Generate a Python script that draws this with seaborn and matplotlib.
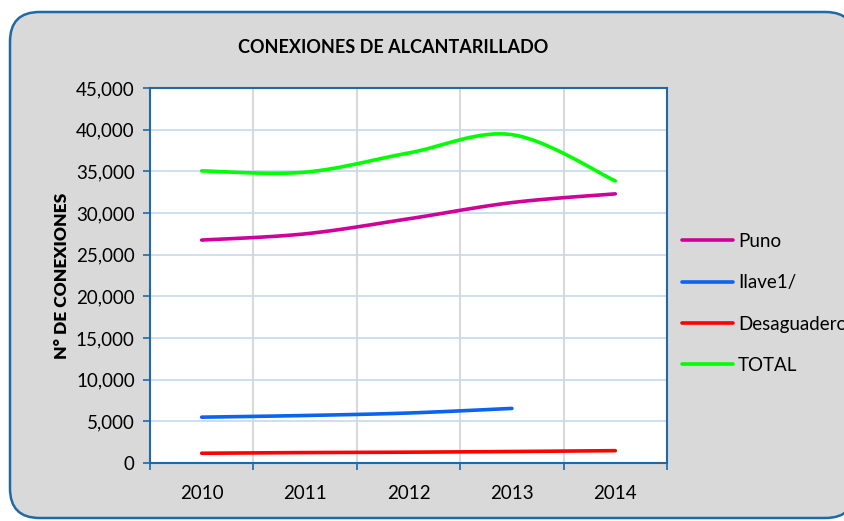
import matplotlib

matplotlib.use("Agg")
import matplotlib.pyplot as plt
import numpy as np
import pandas as pd
import seaborn as sns
from matplotlib.lines import Line2D
from matplotlib.patches import FancyBboxPatch

anios = ["2010", "2011", "2012", "2013", "2014"]
puno = [26750, 27500, 29300, 31250, 32300]
ilave = [5500, 5700, 6000, 6550, None]
desaguadero = [1170, 1250, 1300, 1380, 1480]
total = [35050, 34900, 37200, 39400, 33850]

SERIES = [
    ("Puno", puno, "#d0009a"),
    ("Ilave1/", ilave, "#0a64f0"),
    ("Desaguadero", desaguadero, "#ff0000"),
    ("TOTAL", total, "#00ff00"),
]

sns.set_theme(style="white")
plt.rcParams["font.family"] = ["Lato", "DejaVu Sans"]
plt.rcParams["text.color"] = "black"
plt.rcParams["xtick.color"] = "black"
plt.rcParams["ytick.color"] = "black"
plt.rcParams["axes.labelcolor"] = "black"


def _suave(x, y, n=30):
    """Curva suavizada tipo Excel (Bezier con tangentes Catmull-Rom)."""
    x = np.asarray(x, float)
    y = np.asarray(y, float)
    px = np.r_[x[0], x, x[-1]]
    py = np.r_[y[0], y, y[-1]]
    xs, ys = [], []
    t = np.linspace(0, 1, n)
    for i in range(1, len(x)):
        p0 = np.array([px[i], py[i]])
        p3 = np.array([px[i + 1], py[i + 1]])
        p1 = p0 + (np.array([px[i + 1], py[i + 1]]) - np.array([px[i - 1], py[i - 1]])) / 6
        p2 = p3 - (np.array([px[i + 2], py[i + 2]]) - np.array([px[i], py[i]])) / 6
        b = ((1 - t) ** 3)[:, None] * p0 + (3 * (1 - t) ** 2 * t)[:, None] * p1 \
            + (3 * (1 - t) * t ** 2)[:, None] * p2 + (t ** 3)[:, None] * p3
        xs.extend(b[:, 0]); ys.extend(b[:, 1])
    return np.array(xs), np.array(ys)


fig = plt.figure(figsize=(8.44, 5.21), dpi=100)
fondo = FancyBboxPatch((10 / 844, 3 / 521), 845 / 844, 506 / 521,
                       boxstyle="round,pad=0,rounding_size=0.035",
                       transform=fig.transFigure, facecolor="#d9d9d9",
                       edgecolor="#1f6aa5", linewidth=1.8, mutation_aspect=844 / 521,
                       zorder=-5)
fig.patches.append(fondo)

ax = fig.add_axes([150 / 844, 1 - 463 / 521, 517 / 844, 375 / 521])
ax.set_zorder(2)
ax.set_facecolor("white")
xpos = np.arange(len(anios))
handles = []
for nombre, valores, color in SERIES:
    df = pd.DataFrame({"x": xpos, "y": valores}).dropna()
    sx, sy = _suave(df.x, df.y)
    sns.lineplot(x=sx, y=sy, sort=False, color=color, lw=2.6, ax=ax,
                 solid_capstyle="round")
    handles.append(Line2D([], [], color=color, lw=2.6, solid_capstyle="round"))

ax.set_xlim(-0.5, len(anios) - 0.5)
ax.set_ylim(0, 45000)
ax.set_yticks(np.arange(0, 45001, 5000))
ax.set_yticklabels([f"{v:,}" for v in range(0, 45001, 5000)], fontsize=13.5)
ax.set_xticks(xpos)
ax.set_xticklabels(anios, fontsize=13.5)
ax.set_xticks(np.arange(-0.5, len(anios), 1), minor=True)
ax.tick_params(axis="x", which="major", length=0, pad=16)
ax.tick_params(axis="x", which="minor", length=5, width=1.2, color="#1f6aa5",
               direction="out", bottom=True)
ax.tick_params(axis="y", length=5, width=1.2, color="#1f6aa5", direction="out",
               left=True, pad=6)
ax.yaxis.grid(True, color="#c6d9f0", lw=1.2)
ax.xaxis.grid(True, which="minor", color="#d9d9d9", lw=1.5)
ax.xaxis.grid(False, which="major")
for s in ax.spines.values():
    s.set_visible(True)
    s.set_color("#1f6aa5")
    s.set_linewidth(1.5)
ax.set_ylabel("N° DE CONEXIONES", fontsize=12.5, fontweight="heavy", labelpad=4)
ax.set_xlabel("")

fig.text(393 / 844, 1 - 47 / 521, "CONEXIONES DE ALCANTARILLADO", ha="center",
         va="center", fontsize=13, fontweight="bold")
# la leyenda queda cortada en el borde derecho, igual que en el original
fig.legend(handles, [s[0] for s in SERIES], loc="upper left",
           bbox_to_anchor=(665 / 844, 1 - 216 / 521), frameon=False,
           fontsize=13.5, handlelength=2.7, handletextpad=0.3, labelspacing=1.3)

fig.savefig("out.png", dpi=100)
